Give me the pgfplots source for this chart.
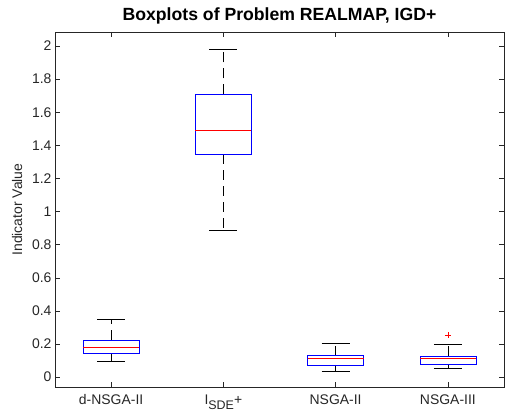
\documentclass[border=0pt]{standalone}
\usepackage{fontspec}
\setmainfont{Liberation Sans}
\usepackage{pgfplots}
\pgfplotsset{compat=1.18}
\usepgfplotslibrary{statistics}
\definecolor{axgray}{RGB}{38,38,38}
\definecolor{mblue}{RGB}{0,0,255}
\definecolor{mred}{RGB}{255,0,0}
\begin{document}
\begin{tikzpicture}
\begin{axis}[
  scale only axis,
  width=449bp, height=355bp,
  at={(0,0)}, anchor=south west,
  xmin=0.5, xmax=4.5,
  ymin=-0.06, ymax=2.085,
  xtick={1,2,3,4},
  xticklabels={d-NSGA-II, I\raisebox{-5.5bp}{\fontsize{12.5}{14}\selectfont SDE}+, NSGA-II, NSGA-III},
  ytick={0,0.2,...,2.01},
  yticklabel style={/pgf/number format/fixed},
  /pgf/number format/assume math mode=true,
  tick align=inside,
  major tick length=5bp,
  axis line style={axgray, line width=0.5pt},
  every tick/.style={axgray, line width=0.5pt},
  ticklabel style={font=\fontsize{14}{16}\selectfont, text=axgray},
  xticklabel style={anchor=north, yshift=-4bp},
  ylabel={Indicator Value},
  ylabel shift=3bp,
  ylabel style={font=\fontsize{14}{16}\selectfont, text=axgray},
  title={Boxplots of Problem REALMAP, IGD+},
  title style={font=\bfseries\fontsize{17.7}{20}\selectfont, yshift=-2bp},
  boxplot/draw direction=y,
  boxplot/box extend=0.5,
  boxplot/whisker extend=0.25,
  boxplot/draw/box/.code={%
    \draw[mblue, line width=0.6pt]
      (boxplot box cs:\pgfplotsboxplotvalue{lower quartile},0)
      rectangle
      (boxplot box cs:\pgfplotsboxplotvalue{upper quartile},1);
  },
  boxplot/draw/median/.code={%
    \draw[mred, line width=0.6pt]
      (boxplot box cs:\pgfplotsboxplotvalue{median},0) --
      (boxplot box cs:\pgfplotsboxplotvalue{median},1);
  },
  boxplot/draw/lower whisker/.code={%
    \draw[black, line width=0.6pt, dash pattern=on 10bp off 6bp]
      (boxplot cs:\pgfplotsboxplotvalue{lower quartile}) --
      (boxplot cs:\pgfplotsboxplotvalue{lower whisker});
    \draw[black, line width=0.6pt]
      (boxplot whisker cs:\pgfplotsboxplotvalue{lower whisker},0) --
      (boxplot whisker cs:\pgfplotsboxplotvalue{lower whisker},1);
  },
  boxplot/draw/upper whisker/.code={%
    \draw[black, line width=0.6pt, dash pattern=on 10bp off 6bp]
      (boxplot cs:\pgfplotsboxplotvalue{upper quartile}) --
      (boxplot cs:\pgfplotsboxplotvalue{upper whisker});
    \draw[black, line width=0.6pt]
      (boxplot whisker cs:\pgfplotsboxplotvalue{upper whisker},0) --
      (boxplot whisker cs:\pgfplotsboxplotvalue{upper whisker},1);
  },
]
\addplot[mark=+, mark size=3bp, mark options={mred, line width=0.6pt},
  boxplot prepared={draw position=1,
    lower whisker=0.098, lower quartile=0.145, median=0.181,
    upper quartile=0.225, upper whisker=0.349}]
  coordinates {};
\addplot[mark=+, mark size=3bp, mark options={mred, line width=0.6pt},
  boxplot prepared={draw position=2,
    lower whisker=0.885, lower quartile=1.345, median=1.492,
    upper quartile=1.708, upper whisker=1.982}]
  coordinates {};
\addplot[mark=+, mark size=3bp, mark options={mred, line width=0.6pt},
  boxplot prepared={draw position=3,
    lower whisker=0.036, lower quartile=0.074, median=0.113,
    upper quartile=0.129, upper whisker=0.207}]
  coordinates {};
\addplot[mark=+, mark size=3bp, mark options={mred, line width=0.6pt},
  boxplot prepared={draw position=4,
    lower whisker=0.050, lower quartile=0.077, median=0.113,
    upper quartile=0.125, upper whisker=0.199}]
  coordinates {(4,0.252)};
\end{axis}
\pgfresetboundingbox
\path[use as bounding box] (-55bp,-31bp) rectangle (450bp,387bp);
\end{tikzpicture}
\end{document}
